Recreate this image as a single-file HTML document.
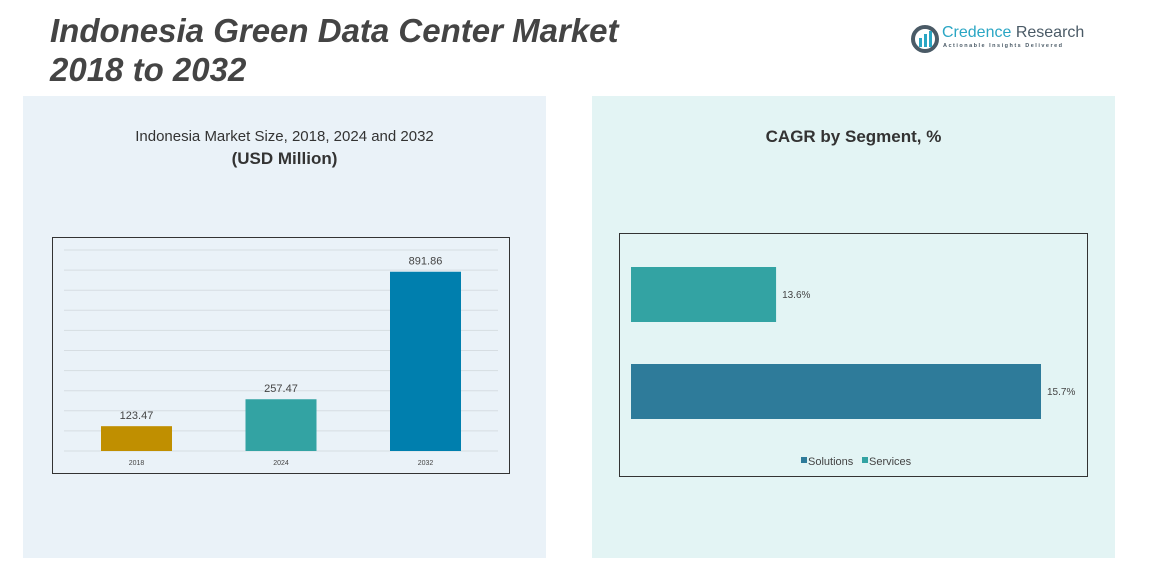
<!DOCTYPE html>
<html><head><meta charset="utf-8"><style>
body{margin:0;width:1161px;height:567px;background:#fff;position:relative;overflow:hidden;font-family:"Liberation Sans",sans-serif}
.abs{position:absolute}
</style></head><body>
<div class="abs" style="left:50px;top:11px;font-size:33px;font-weight:bold;font-style:italic;color:#444;line-height:39px">Indonesia Green Data Center Market<br>2018 to 2032</div>
<div class="abs" style="left:910px;top:22px;width:180px;height:36px">
<svg width="30" height="30" viewBox="0 0 30 30" style="position:absolute;left:0;top:2px"><circle cx="15" cy="15" r="12" fill="none" stroke="#4a5a66" stroke-width="4"/><rect x="9" y="14" width="3" height="9" fill="#2aa6c4"/><rect x="14" y="10" width="3" height="13" fill="#2aa6c4"/><rect x="19" y="7" width="3" height="16" fill="#2aa6c4"/></svg>
<div class="abs" style="left:32px;top:2px;font-size:16px;color:#2aa6c4;white-space:nowrap">Credence <span style="color:#4a5a66">Research</span></div>
<div class="abs" style="left:33px;top:21px;font-size:5.5px;letter-spacing:1.5px;color:#4a5a66;white-space:nowrap;font-weight:bold">Actionable Insights Delivered</div>
</div>
<div class="abs" style="left:23px;top:96px;width:523px;height:462px;background:#eaf2f8"></div>
<div class="abs" style="left:592px;top:96px;width:523px;height:462px;background:#e3f4f4"></div>
<div class="abs" style="left:23px;top:126px;width:523px;text-align:center;font-size:15px;color:#333;line-height:22px">Indonesia Market Size, 2018, 2024 and 2032<br><b style="font-size:17px">(USD Million)</b></div>
<div class="abs" style="left:592px;top:127px;width:523px;text-align:center;font-size:17px;font-weight:bold;color:#333">CAGR by Segment, %</div>
<svg class="abs" style="left:0;top:0" width="1161" height="567" id="svg"></svg>
<script>
const years=["2018","2024","2032"];
const sizes=[123.47,257.47,891.86];
const sizeLabels=["123.47","257.47","891.86"];
const segments=["Services","Solutions"];
const cagr=[13.6,15.7];
const cagrLabels=["13.6%","15.7%"];
const svg=document.getElementById('svg');
const NS='http://www.w3.org/2000/svg';
function mk(t,a){const e=document.createElementNS(NS,t);for(const k in a)e.setAttribute(k,a[k]);svg.appendChild(e);return e;}
const box1=mk('rect',{x:52.5,y:237.5,width:457,height:236,fill:'none',stroke:'#333','stroke-width':1});


const base=451,yMax=1000,plotH=201;
const yS=v=>base-v/yMax*plotH;
for(let g=0;g<=1000;g+=100){const l=mk('line',{x1:64,x2:498,y1:yS(g),y2:yS(g),stroke:'#d6dde2','stroke-width':1});

}
const cols=['#c08f00','#33a3a3','#007fae'];
const x0=101,step=144.5,bw=71;
years.forEach((y,i)=>{
const x=x0+i*step;
const r=mk('rect',{x:x,y:yS(sizes[i]),width:bw,height:base-yS(sizes[i]),fill:cols[i]});


const t=mk('text',{x:x+bw/2,y:yS(sizes[i])-7,'text-anchor':'middle','font-size':11,fill:'#444'});t.textContent=sizeLabels[i];


const c=mk('text',{x:x+bw/2,y:465,'text-anchor':'middle','font-size':7,fill:'#444'});c.textContent=y;


});
const box2=mk('rect',{x:619.5,y:233.5,width:468,height:243,fill:'none',stroke:'#333','stroke-width':1});


const xMin=12.45,xL=631,pxPer=410/(15.7-12.45);
const xS=v=>xL+(v-xMin)*pxPer;
const bcols=['#33a3a3','#2e7b9a'];
segments.forEach((s,i)=>{
const y=267+i*97;
const r=mk('rect',{x:xL,y:y,width:xS(cagr[i])-xL,height:55,fill:bcols[i]});


const t=mk('text',{x:xS(cagr[i])+6,y:y+31,'font-size':10,fill:'#444'});t.textContent=cagrLabels[i];


});
const leg=[['Solutions','#2e7b9a',801],['Services','#33a3a3',862]];
leg.forEach(l=>{
const r=mk('rect',{x:l[2],y:457,width:6,height:6,fill:l[1]});


const t=mk('text',{x:l[2]+7,y:465,'font-size':11,fill:'#444'});t.textContent=l[0];


});
</script>
</body></html>
